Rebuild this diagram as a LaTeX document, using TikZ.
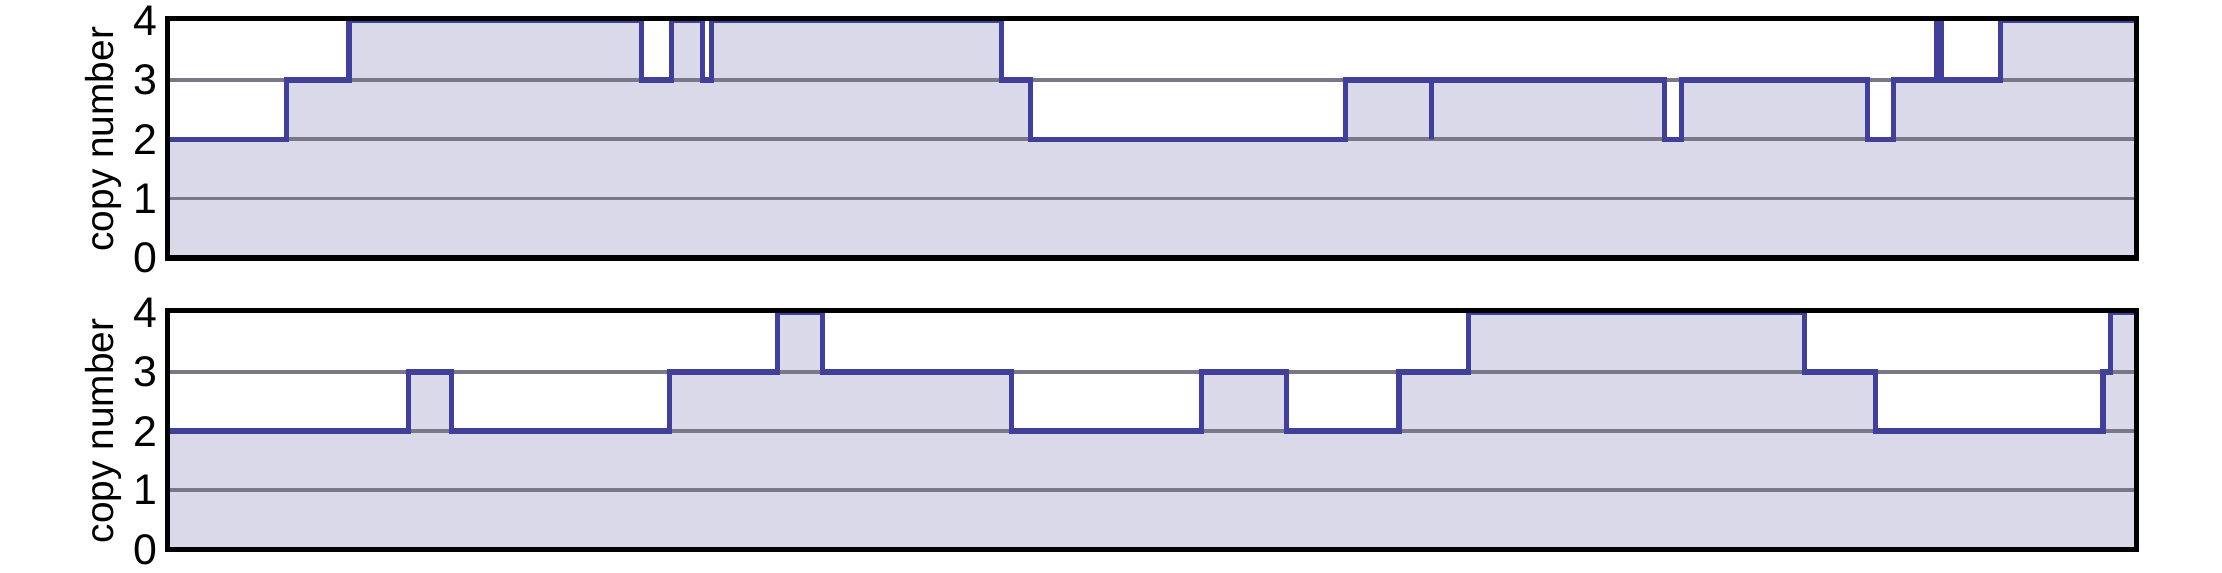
\documentclass[tikz,border=0pt]{standalone}
\usepackage{fontspec}
\setmainfont{Liberation Sans}
\definecolor{cnfill}{RGB}{217,217,234}
\definecolor{cnline}{RGB}{64,64,154}
\definecolor{cngrid}{RGB}{120,120,136}
\tikzset{
	cnframe/.style={black,line width=1.05pt},
	gridln/.style={cngrid,line width=0.75pt},
	stepline/.style={cnline,line width=1.05pt},
	ticklbl/.style={anchor=east,inner sep=0pt,font=\fontsize{8.6}{9}\selectfont},
	axlbl/.style={rotate=90,inner sep=0pt,font=\fontsize{7.8}{9}\selectfont}
}
% step profiles (x, copy number from there on)
\def\topsteps{plot[const plot] coordinates {(118,2) (202.2,3) (246.4,4) (453,3) (474.3,4) (496.2,3) (502.2,4) (707.1,3) (727.7,2) (950.2,3) (1010.5,2) (1010.5,3) (1175.4,2) (1187,3) (1318.6,2) (1337.2,3) (1367.6,4) (1371,3) (1412.5,4) (1508.4,4)}}
\def\botsteps{plot[const plot] coordinates {(118,2) (288.4,3) (319,2) (472.9,3) (548.9,4) (580.5,3) (714.4,2) (848.6,3) (908.5,2) (987.8,3) (1036.7,4) (1274.2,3) (1324.2,2) (1484.8,3) (1490.1,4) (1508.4,4)}}
\begin{document}
\begin{tikzpicture}
\useasboundingbox (0,0) rectangle (15.68,4.037);

% upper panel
\begin{scope}[x=0.01cm,y=0.4185cm,yshift=2.217cm]
\fill[cnfill] \topsteps -- (1508.4,0) -- (118,0) -- cycle;
\draw[gridln] (118,1) -- (1508.4,1);
\draw[gridln] (118,2) -- (1508.4,2);
\draw[gridln] (118,3) -- (1508.4,3);
\draw[stepline] \topsteps;
\draw[cnframe] (118,0) rectangle (1508.4,4.035);
\node[ticklbl] (T0) at (111.7,0) {0};
\node[ticklbl] (T1) at (111.7,1) {1};
\node[ticklbl] (T2) at (111.7,2) {2};
\node[ticklbl] (T3) at (111.7,3) {3};
\node[ticklbl] (T4) at (111.7,4) {4};
\node[axlbl] (TL) at (73.3,2) {copy number};
\end{scope}

% lower panel
\begin{scope}[x=0.01cm,y=0.4175cm,yshift=0.16cm]
\fill[cnfill] \botsteps -- (1508.4,0) -- (118,0) -- cycle;
\draw[gridln] (118,1) -- (1508.4,1);
\draw[gridln] (118,2) -- (1508.4,2);
\draw[gridln] (118,3) -- (1508.4,3);
\draw[stepline] \botsteps;
\draw[cnframe] (118,0) rectangle (1508.4,4.035);
\node[ticklbl] (B0) at (111.7,0) {0};
\node[ticklbl] (B1) at (111.7,1) {1};
\node[ticklbl] (B2) at (111.7,2) {2};
\node[ticklbl] (B3) at (111.7,3) {3};
\node[ticklbl] (B4) at (111.7,4) {4};
\node[axlbl] (BL) at (73.3,2) {copy number};
\end{scope}

\end{tikzpicture}
\end{document}
